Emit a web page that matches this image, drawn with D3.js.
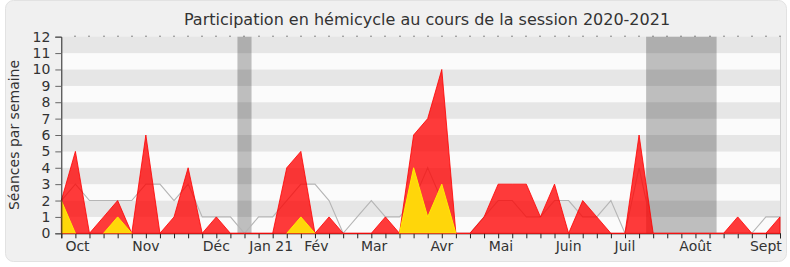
<!DOCTYPE html>
<html>
<head>
<meta charset="utf-8">
<script src="https://cdn.jsdelivr.net/npm/d3@7/dist/d3.min.js"></script>
<style>
	html, body { margin: 0; padding: 0; background: #fff; }
	svg { display: block; font-family: "DejaVu Sans", Verdana, sans-serif; }
</style>
</head>
<body>
<div id="chart"></div>
<script>
// weekly values, session 2020-2021 (52 weeks)
const presences = [2, 5, 0, 1, 2, 0, 6, 0, 1, 4, 0, 1, 0, 0, 0, 0, 4, 5, 0, 1, 0, 0, 0, 1, 0, 6, 7, 10, 0, 0, 1, 3, 3, 3, 1, 3, 0, 2, 1, 0, 0, 6, 0, 0, 0, 0, 0, 0, 1, 0, 0, 1];
const interventions = [2, 0, 0, 0, 1, 0, 0, 0, 0, 0, 0, 0, 0, 0, 0, 0, 0, 1, 0, 0, 0, 0, 0, 0, 0, 4, 1, 3, 0, 0, 0, 0, 0, 0, 0, 0, 0, 0, 0, 0, 0, 0, 0, 0, 0, 0, 0, 0, 0, 0, 0, 0];
const mediane = [2, 3, 2, 2, 2, 2, 3, 3, 2, 3, 1, 1, 1, 0, 1, 1, 2, 3, 3, 2, 0, 1, 2, 1, 1, 2, 4, 2, 0, 0, 1, 2, 2, 1, 1, 2, 2, 1, 1, 2, 0, 4, 0, 0, 0, 0, 0, 0, 0, 0, 1, 1];
const vacances = [[12.5, 13.5], [41.5, 46.5]];
const mois = ['Oct', 'Nov', 'Déc', 'Jan 21', 'Fév', 'Mar', 'Avr', 'Mai', 'Juin', 'Juil', 'Août', 'Sept'];
const moisSemaine = [1.15, 6, 11, 14.9, 18.1, 22.2, 27, 31.2, 36, 40, 45, 50];
const yTicks = [0, 1, 2, 3, 4, 5, 6, 7, 8, 9, 10, 11, 12];

const W = 790, H = 267;
const margin = {left: 61.3, right: 10, top: 36.7, bottom: 33.7};

const svg = d3.select('#chart').append('svg')
	.attr('width', W)
	.attr('height', H);

// panel
svg.append('rect')
	.attr('x', 5.5).attr('y', 0.5)
	.attr('width', 781).attr('height', 261)
	.attr('rx', 8).attr('ry', 8)
	.attr('fill', '#f0f0f0')
	.attr('stroke', '#e2e2e2');

const x = d3.scaleLinear().domain([0, presences.length - 1]).range([margin.left, W - margin.right]);
const y = d3.scaleLinear().domain([0, 12]).range([H - margin.bottom, margin.top]);

// stripes
svg.append('g').selectAll('rect')
	.data(yTicks.slice(0, -1))
	.enter().append('rect')
	.attr('x', x(0))
	.attr('width', x(presences.length - 1) - x(0))
	.attr('y', d => y(d + 1))
	.attr('height', d => y(d) - y(d + 1))
	.attr('fill', d => d % 2 ? '#e6e6e6' : '#fbfbfb');

// right border
svg.append('line')
	.attr('x1', x(presences.length - 1) + 0.5).attr('x2', x(presences.length - 1) + 0.5)
	.attr('y1', y(12)).attr('y2', y(0))
	.attr('stroke', '#d0d0d0');

// vacances
svg.append('g').selectAll('rect')
	.data(vacances)
	.enter().append('rect')
	.attr('x', d => x(d[0]))
	.attr('width', d => x(d[1]) - x(d[0]))
	.attr('y', y(12))
	.attr('height', y(0) - y(12))
	.attr('fill', '#000')
	.attr('fill-opacity', 0.245);

const idx = d3.range(presences.length);

// x axis (weeks)
const xAxis = svg.append('g')
	.attr('transform', `translate(0,${y(0)})`)
	.call(d3.axisBottom(x).tickValues(idx).tickSize(5).tickFormat(''));
xAxis.select('.domain').attr('stroke', '#222');
xAxis.selectAll('.tick line').attr('stroke', '#222');

// median line
svg.append('path')
	.datum(idx)
	.attr('d', d3.line().x(i => x(i)).y(i => y(mediane[i])))
	.attr('fill', 'none')
	.attr('stroke', '#b5b5b5')
	.attr('stroke-width', 1.1);

const area = function (values) {
	return d3.area().x(i => x(i)).y0(y(0)).y1(i => y(values[i]));
};

svg.append('path')
	.datum(idx)
	.attr('d', area(presences))
	.attr('fill', '#ff0000')
	.attr('fill-opacity', 0.77)
	.attr('stroke', '#ff0000')
	.attr('stroke-opacity', 0.8)
	.attr('stroke-width', 1);

svg.append('path')
	.datum(idx)
	.attr('d', area(interventions))
	.attr('fill', '#ffd60a');

// yellow top edge only around non-zero weeks
const pres = i => interventions[i] > 0;
svg.append('path')
	.datum(idx)
	.attr('d', d3.line()
		.defined(i => pres(i) || pres(i - 1) || pres(i + 1))
		.x(i => x(i)).y(i => y(interventions[i])))
	.attr('fill', 'none')
	.attr('stroke', '#ffee00')
	.attr('stroke-width', 1);

// y axis
const yAxis = svg.append('g')
	.attr('transform', `translate(${x(0)},0)`)
	.call(d3.axisLeft(y).tickValues(yTicks).tickSize(6).tickPadding(5).tickFormat(d3.format('d')));
yAxis.select('.domain').attr('stroke', '#222');
yAxis.selectAll('.tick line').attr('stroke', '#666');
yAxis.selectAll('text').attr('font-size', '14px').attr('fill', '#333').attr('font-family', '"DejaVu Sans", sans-serif');

// top tick dots
svg.append('g').selectAll('rect')
	.data(idx.slice(1))
	.enter().append('rect')
	.attr('x', i => Math.round(x(i)) - 0.5)
	.attr('y', y(12) - 1)
	.attr('width', 1).attr('height', 1)
	.attr('fill', '#222');

// month labels
svg.append('g').selectAll('text')
	.data(mois)
	.enter().append('text')
	.attr('x', (d, i) => x(moisSemaine[i]))
	.attr('y', 251)
	.attr('text-anchor', 'middle')
	.attr('font-size', '14px')
	.attr('fill', '#333')
	.text(d => d);

// title
svg.append('text')
	.attr('x', 427)
	.attr('y', 25)
	.attr('text-anchor', 'middle')
	.attr('font-size', '16px')
	.attr('fill', '#333')
	.text('Participation en hémicycle au cours de la session 2020-2021');

svg.append('text')
	.attr('transform', `translate(19,${(y(0) + y(12)) / 2}) rotate(-90)`)
	.attr('text-anchor', 'middle')
	.attr('font-size', '14px')
	.attr('fill', '#333')
	.text('Séances par semaine');
</script>
</body>
</html>
